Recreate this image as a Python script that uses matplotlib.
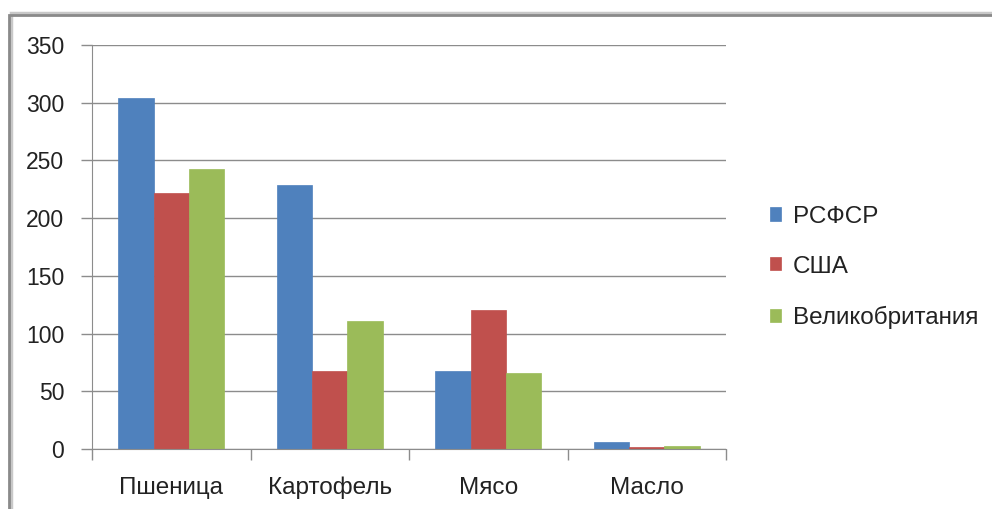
import matplotlib
matplotlib.use("Agg")
import matplotlib.pyplot as plt
import numpy as np
from matplotlib.patches import Rectangle

categories = ["Пшеница", "Картофель", "Мясо", "Масло"]
rsfsr = [304, 229, 68, 6]
usa = [222, 68, 120, 1.7]
uk = [243, 111, 66, 2.6]
series_names = ["РСФСР", "США", "Великобритания"]
colors = ["#4F81BD", "#C0504D", "#9BBB59"]
y_ticks = [0, 50, 100, 150, 200, 250, 300, 350]

plt.rcParams["font.family"] = ["Liberation Sans", "DejaVu Sans"]

fig = plt.figure(figsize=(9.92, 5.09), dpi=100)
ax = fig.add_axes([92 / 992, 60 / 509, 634 / 992, 404 / 509])

x = np.arange(len(categories))
w = 1 / 4.5
for i, (vals, name, c) in enumerate(zip([rsfsr, usa, uk], series_names, colors)):
    ax.bar(x + (i - 1) * w, vals, width=w, color=c, label=name,
           edgecolor=c, linewidth=0.5)

ax.set_xlim(-0.5, len(categories) - 0.5)
ax.set_ylim(0, 350)
ax.set_yticks(y_ticks)
ax.yaxis.grid(True, color="#8c8c8c", linewidth=1)
ax.set_axisbelow(True)

# category labels between boundary ticks
ax.set_xticks(np.arange(-0.5, len(categories)), minor=False)
ax.set_xticklabels([])
ax.set_xticks(x, minor=True)
ax.set_xticklabels(categories, minor=True)
ax.tick_params(axis="x", which="minor", length=0, pad=20, labelsize=17.5, colors="#222222")
ax.tick_params(axis="x", which="major", length=8, color="#8c8c8c", width=1)
ax.tick_params(axis="y", length=8, color="#8c8c8c", width=1, labelsize=16.5,
               pad=12, labelcolor="#222222")

for s in ["top", "right"]:
    ax.spines[s].set_visible(False)
for s in ["left", "bottom"]:
    ax.spines[s].set_color("#8c8c8c")

leg = ax.legend(loc="center left", bbox_to_anchor=(1.035, 0.45), frameon=False,
                fontsize=17.5, handlelength=0.45, handleheight=0.45,
                handletextpad=0.5, labelspacing=1.15)
for t in leg.get_texts():
    t.set_color("#222222")

# outer chart frame with shadow
fig.patches.append(Rectangle((11 / 992, -0.1), 1.2, (509 - 13) / 509 + 0.1,
                             transform=fig.transFigure, fill=False,
                             edgecolor="#c8c8c8", linewidth=2.5, zorder=-1))
fig.patches.append(Rectangle((9 / 992, -0.1), 1.2, (509 - 15) / 509 + 0.1,
                             transform=fig.transFigure, fill=False,
                             edgecolor="#8a8a8a", linewidth=2, zorder=0))

fig.savefig("out.png", dpi=100)
